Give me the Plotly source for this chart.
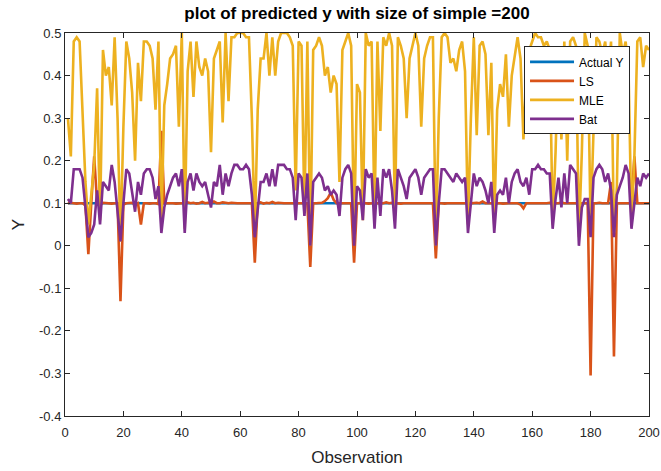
import plotly.graph_objects as go

# Observation index (1..200)
observations = list(range(1, 201))

# Actual response values
actual_y = [
    0.10, 0.10, 0.10, 0.10, 0.10, 0.10, 0.10, 0.10, 0.10, 0.10, 0.10, 0.10, 0.10, 0.10, 0.10, 0.10, 0.10, 0.10, 0.10, 0.10,
    0.10, 0.10, 0.10, 0.10, 0.10, 0.10, 0.10, 0.10, 0.10, 0.10, 0.10, 0.10, 0.10, 0.10, 0.10, 0.10, 0.10, 0.10, 0.10, 0.10,
    0.10, 0.10, 0.10, 0.10, 0.10, 0.10, 0.10, 0.10, 0.10, 0.10, 0.10, 0.10, 0.10, 0.10, 0.10, 0.10, 0.10, 0.10, 0.10, 0.10,
    0.10, 0.10, 0.10, 0.10, 0.10, 0.10, 0.10, 0.10, 0.10, 0.10, 0.10, 0.10, 0.10, 0.10, 0.10, 0.10, 0.10, 0.10, 0.10, 0.10,
    0.10, 0.10, 0.10, 0.10, 0.10, 0.10, 0.10, 0.10, 0.10, 0.10, 0.10, 0.10, 0.10, 0.10, 0.10, 0.10, 0.10, 0.10, 0.10, 0.10,
    0.10, 0.10, 0.10, 0.10, 0.10, 0.10, 0.10, 0.10, 0.10, 0.10, 0.10, 0.10, 0.10, 0.10, 0.10, 0.10, 0.10, 0.10, 0.10, 0.10,
    0.10, 0.10, 0.10, 0.10, 0.10, 0.10, 0.10, 0.10, 0.10, 0.10, 0.10, 0.10, 0.10, 0.10, 0.10, 0.10, 0.10, 0.10, 0.10, 0.10,
    0.10, 0.10, 0.10, 0.10, 0.10, 0.10, 0.10, 0.10, 0.10, 0.10, 0.10, 0.10, 0.10, 0.10, 0.10, 0.10, 0.10, 0.10, 0.10, 0.10,
    0.10, 0.10, 0.10, 0.10, 0.10, 0.10, 0.10, 0.10, 0.10, 0.10, 0.10, 0.10, 0.10, 0.10, 0.10, 0.10, 0.10, 0.10, 0.10, 0.10,
    0.10, 0.10, 0.10, 0.10, 0.10, 0.10, 0.10, 0.10, 0.10, 0.10, 0.10, 0.10, 0.10, 0.10, 0.10, 0.10, 0.10, 0.10, 0.10, 0.10,
]

# Least-squares predictions
ls_pred = [
    0.100, 0.101, 0.100, 0.099, 0.100, 0.100, 0.095, -0.020, 0.100, 0.210, 0.100, 0.095, 0.101, 0.100, 0.100, 0.099, 0.100, 0.100, -0.130, 0.097,
    0.100, 0.100, 0.101, 0.097, 0.100, 0.050, 0.100, 0.100, 0.099, 0.100, 0.100, 0.098, 0.270, 0.100, 0.100, 0.101, 0.100, 0.099, 0.100, 0.100,
    0.100, 0.102, 0.100, 0.101, 0.099, 0.100, 0.103, 0.100, 0.101, 0.100, 0.104, 0.100, 0.100, 0.102, 0.101, 0.100, 0.101, 0.100, 0.100, 0.100,
    0.100, 0.100, 0.100, 0.100, -0.040, 0.100, 0.102, 0.099, 0.101, 0.100, 0.103, 0.100, 0.101, 0.100, 0.100, 0.100, 0.100, 0.100, 0.100, 0.100,
    0.101, 0.100, 0.100, -0.050, 0.100, 0.100, 0.100, 0.101, 0.105, 0.112, 0.125, 0.108, 0.100, 0.100, 0.100, 0.100, 0.101, 0.100, -0.040, 0.100,
    0.100, 0.101, 0.100, 0.099, 0.100, 0.100, 0.101, 0.100, 0.100, 0.102, 0.100, 0.101, 0.100, 0.100, 0.099, 0.100, 0.100, 0.101, 0.100, 0.100,
    0.100, 0.100, 0.101, 0.100, 0.100, 0.100, -0.030, 0.100, 0.100, 0.099, 0.100, 0.100, 0.100, 0.101, 0.100, 0.100, 0.100, 0.099, 0.100, 0.100,
    0.101, 0.100, 0.104, 0.100, 0.100, 0.101, 0.100, 0.100, 0.100, 0.099, 0.100, 0.100, 0.100, 0.100, 0.100, 0.097, 0.088, 0.100, 0.100, 0.100,
    0.100, 0.100, 0.100, 0.099, 0.100, 0.101, 0.100, 0.100, 0.100, 0.102, 0.100, 0.100, 0.101, 0.100, 0.100, 0.100, 0.100, 0.100, 0.100, -0.305,
    0.100, 0.100, 0.101, 0.100, 0.100, 0.100, 0.150, -0.260, 0.100, 0.100, 0.100, 0.100, 0.100, 0.100, 0.210, 0.100, 0.100, 0.100, 0.099, 0.100,
]

# Maximum-likelihood predictions
mle_pred = [
    0.30, 0.21, 0.48, 0.49, 0.48, 0.30, 0.15, 0.05, 0.12, 0.19, 0.37, 0.06, 0.46, 0.40, 0.42, 0.33, 0.49, 0.30, 0.01, 0.28,
    0.48, 0.44, 0.36, 0.20, 0.43, 0.34, 0.48, 0.48, 0.47, 0.44, 0.32, 0.48, 0.05, 0.33, 0.38, 0.44, 0.45, 0.47, 0.28, 0.50,
    0.04, 0.41, 0.48, 0.35, 0.48, 0.42, 0.40, 0.44, 0.41, 0.22, 0.44, 0.46, 0.48, 0.29, 0.50, 0.34, 0.49, 0.49, 0.50, 0.50,
    0.50, 0.49, 0.49, 0.30, 0.03, 0.32, 0.44, 0.44, 0.50, 0.40, 0.49, 0.40, 0.48, 0.50, 0.50, 0.50, 0.49, 0.47, 0.13, 0.48,
    0.47, 0.08, 0.48, 0.00, 0.46, 0.47, 0.49, 0.47, 0.40, 0.42, 0.36, 0.40, 0.38, 0.15, 0.46, 0.48, 0.50, 0.47, 0.02, 0.38,
    0.36, 0.06, 0.50, 0.47, 0.48, 0.07, 0.48, 0.27, 0.49, 0.47, 0.50, 0.47, 0.07, 0.49, 0.47, 0.44, 0.30, 0.44, 0.47, 0.50,
    0.47, 0.28, 0.44, 0.47, 0.49, 0.49, 0.00, 0.30, 0.49, 0.50, 0.49, 0.43, 0.44, 0.41, 0.46, 0.48, 0.41, 0.05, 0.30, 0.49,
    0.26, 0.47, 0.48, 0.45, 0.26, 0.43, 0.05, 0.32, 0.38, 0.35, 0.45, 0.28, 0.40, 0.45, 0.49, 0.44, 0.25, 0.40, 0.46, 0.48,
    0.50, 0.49, 0.49, 0.47, 0.48, 0.46, 0.05, 0.22, 0.46, 0.25, 0.48, 0.20, 0.48, 0.49, 0.47, 0.02, 0.22, 0.50, 0.47, 0.05,
    0.30, 0.49, 0.48, 0.45, 0.48, 0.40, 0.48, 0.03, 0.14, 0.50, 0.45, 0.48, 0.41, 0.05, 0.21, 0.48, 0.49, 0.42, 0.47, 0.46,
]

# Bat-algorithm predictions
bat_pred = [
    0.11, 0.10, 0.18, 0.18, 0.18, 0.16, 0.08, 0.02, 0.03, 0.05, 0.13, 0.05, 0.15, 0.14, 0.13, 0.19, 0.15, 0.08, 0.01, 0.10,
    0.18, 0.17, 0.12, 0.08, 0.15, 0.12, 0.17, 0.18, 0.18, 0.16, 0.11, 0.14, 0.03, 0.09, 0.12, 0.14, 0.16, 0.17, 0.14, 0.18,
    0.03, 0.15, 0.17, 0.13, 0.17, 0.15, 0.14, 0.15, 0.12, 0.09, 0.15, 0.14, 0.19, 0.12, 0.17, 0.14, 0.17, 0.19, 0.19, 0.18,
    0.18, 0.19, 0.18, 0.12, 0.02, 0.08, 0.15, 0.15, 0.17, 0.14, 0.18, 0.14, 0.19, 0.19, 0.19, 0.18, 0.18, 0.16, 0.06, 0.17,
    0.16, 0.07, 0.17, 0.00, 0.15, 0.16, 0.17, 0.16, 0.13, 0.14, 0.12, 0.13, 0.12, 0.07, 0.16, 0.18, 0.19, 0.17, 0.00, 0.14,
    0.13, 0.06, 0.18, 0.16, 0.17, 0.04, 0.16, 0.07, 0.18, 0.16, 0.18, 0.13, 0.04, 0.18, 0.16, 0.14, 0.11, 0.16, 0.17, 0.18,
    0.16, 0.12, 0.16, 0.17, 0.18, 0.18, 0.00, 0.10, 0.18, 0.18, 0.17, 0.16, 0.15, 0.17, 0.16, 0.15, 0.16, 0.03, 0.10, 0.17,
    0.14, 0.16, 0.15, 0.13, 0.10, 0.15, 0.03, 0.12, 0.13, 0.12, 0.16, 0.10, 0.15, 0.17, 0.18, 0.15, 0.14, 0.16, 0.12, 0.18,
    0.18, 0.19, 0.18, 0.18, 0.17, 0.17, 0.04, 0.11, 0.16, 0.09, 0.17, 0.10, 0.19, 0.18, 0.17, 0.00, 0.09, 0.11, 0.11, 0.02,
    0.16, 0.18, 0.19, 0.18, 0.15, 0.17, 0.13, 0.02, 0.12, 0.14, 0.16, 0.19, 0.17, 0.04, 0.10, 0.16, 0.14, 0.17, 0.16, 0.17,
]

x_tick_vals = [0, 20, 40, 60, 80, 100, 120, 140, 160, 180, 200]
x_tick_text = ["0", "20", "40", "60", "80", "100", "120", "140", "160", "180", "200"]
y_tick_vals = [-0.4, -0.3, -0.2, -0.1, 0, 0.1, 0.2, 0.3, 0.4, 0.5]
y_tick_text = ["-0.4", "-0.3", "-0.2", "-0.1", "0", "0.1", "0.2", "0.3", "0.4", "0.5"]

series = [
    ("Actual Y", actual_y, "#0072BD"),
    ("LS", ls_pred, "#D95319"),
    ("MLE", mle_pred, "#EDB120"),
    ("Bat", bat_pred, "#7E2F8E"),
]

FONT = "Liberation Sans, Arial, sans-serif"

fig = go.Figure()
for name, values, color in series:
    fig.add_trace(go.Scatter(
        x=observations, y=values, mode="lines", name=name,
        line=dict(color=color, width=2.6),
    ))

axis_style = dict(
    showgrid=False, zeroline=False, showline=True, linecolor="#262626", linewidth=1,
    mirror="ticks", ticks="inside", ticklen=5, tickcolor="#262626", automargin=False,
    tickfont=dict(family=FONT, size=13, color="#262626"),
)

fig.update_layout(
    width=661, height=471,
    margin=dict(l=65, r=12, t=33, b=55),
    paper_bgcolor="white", plot_bgcolor="white",
    font=dict(family=FONT, color="#262626"),
    title=dict(
        text="<b>plot of predicted y with size of simple =200</b>",
        x=0.5, xref="paper", xanchor="center", y=0.972, yanchor="middle",
        font=dict(size=17, color="#000000"),
    ),
    xaxis=dict(
        range=[0, 200], tickvals=x_tick_vals, ticktext=x_tick_text,
        ticklabelstandoff=4,
        title=dict(text="Observation", font=dict(size=17), standoff=12),
        **axis_style,
    ),
    yaxis=dict(
        range=[-0.4, 0.5], tickvals=y_tick_vals, ticktext=y_tick_text,
        title=dict(text="Y", font=dict(size=17), standoff=10),
        **axis_style,
    ),
    legend=dict(
        x=0.786, y=0.965, xanchor="left", yanchor="top",
        bgcolor="white", bordercolor="#262626", borderwidth=1,
        font=dict(family=FONT, size=12, color="#000000"),
        tracegroupgap=0, itemwidth=44,
    ),
    showlegend=True,
)

fig.write_html("out.html")
